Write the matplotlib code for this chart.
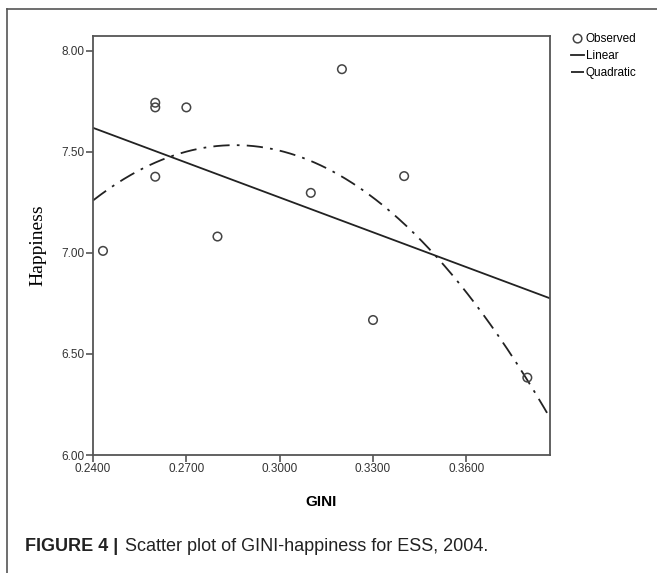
import numpy as np
import matplotlib
matplotlib.use("Agg")
import matplotlib.pyplot as plt
from matplotlib.lines import Line2D

# observed points
gini = [0.2432, 0.2600, 0.2600, 0.2600, 0.2700, 0.2800, 0.3100, 0.3200, 0.3300, 0.3400, 0.3796]
happiness = [7.01, 7.743, 7.72, 7.377, 7.72, 7.081, 7.297, 7.909, 6.668, 7.38, 6.383]

x_ticks = [0.24, 0.27, 0.30, 0.33, 0.36]
x_tick_labels = ["0.2400", "0.2700", "0.3000", "0.3300", "0.3600"]
y_ticks = [6.0, 6.5, 7.0, 7.5, 8.0]
y_tick_labels = ["6.00", "6.50", "7.00", "7.50", "8.00"]

x_min, x_max = 0.24, 0.3869
y_min, y_max = 6.0, 8.073

narrow = ["Liberation Sans Narrow", "Liberation Sans", "DejaVu Sans"]

fig = plt.figure(figsize=(6.57, 5.73), dpi=100)
ax = fig.add_axes([0.1416, 0.2059, 0.6956, 0.7312])

ax.scatter(gini, happiness, s=38, facecolors="none", edgecolors="#444444",
           linewidths=1.1, label="Observed", zorder=3)

# fitted curves from the observed points
xs = np.linspace(x_min, x_max, 300)
lin = np.polyfit(gini, happiness, 1)
quad = np.polyfit(gini, happiness, 2)
ax.plot(xs, np.polyval(lin, xs), color="#222222", lw=1.3, label="Linear")
ax.plot(xs, np.polyval(quad, xs), color="#222222", lw=1.3,
        dashes=(9, 4, 1.5, 4), label="Quadratic")

ax.set_xlim(x_min, x_max)
ax.set_ylim(y_min, y_max)
ax.set_xticks(x_ticks)
ax.set_xticklabels(x_tick_labels, family=narrow, fontsize=8.5, color="#333333")
ax.set_yticks(y_ticks)
ax.set_yticklabels(y_tick_labels, family=narrow, fontsize=8.5, color="#333333")
ax.tick_params(direction="out", length=5, width=1.2, color="#555555", pad=1)
for sp in ax.spines.values():
    sp.set_color("#555555")
    sp.set_linewidth(1.3)

ax.set_xlabel("GINI", family="Liberation Sans", fontweight="bold", fontsize=11,
              labelpad=14)
ax.set_ylabel("Happiness", family="Liberation Serif", fontsize=14, labelpad=11)

leg = ax.legend(loc="upper left", bbox_to_anchor=(1.046, 1.008), frameon=False,
                prop={"family": narrow, "size": 8.5}, handlelength=1.1,
                handletextpad=0.15, borderaxespad=0.0, borderpad=0.0,
                labelspacing=0.45)

# caption
fig.text(0.038, 0.039, "FIGURE 4 |", family="Liberation Sans", fontweight="bold",
         fontsize=13, color="#222222")
fig.text(0.19, 0.039, "Scatter plot of GINI-happiness for ESS, 2004.",
         family="Liberation Sans", fontsize=13, color="#222222")

# outer frame (top and left edges)
fig.add_artist(Line2D([0.0107, 1.0], [0.984, 0.984], color="#555555", lw=1.2,
                      transform=fig.transFigure))
fig.add_artist(Line2D([0.0107, 0.0107], [0.0, 0.984], color="#555555", lw=1.2,
                      transform=fig.transFigure))

fig.savefig("out.png", dpi=100)
